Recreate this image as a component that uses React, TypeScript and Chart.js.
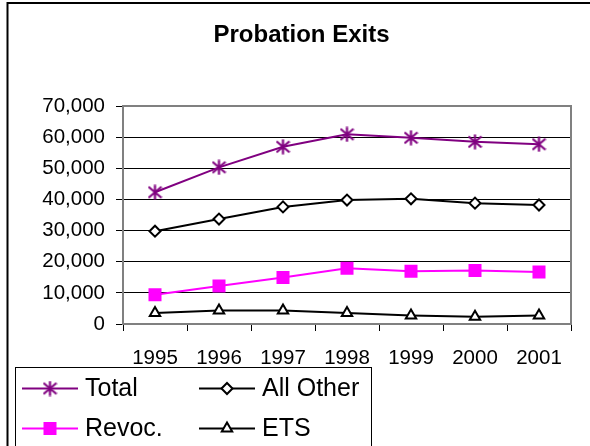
import React, { useEffect, useRef } from 'react';
import { Chart, registerables } from 'chart.js';

Chart.register(...registerables);

const categories = ['1995', '1996', '1997', '1998', '1999', '2000', '2001'];
const totalValues = [42300, 50300, 56900, 60900, 59800, 58500, 57700];
const allOtherValues = [29800, 33700, 37600, 39800, 40200, 38800, 38200];
const revocValues = [9400, 12200, 14900, 17900, 16900, 17200, 16700];
const etsValues = [3500, 4300, 4300, 3500, 2700, 2300, 2700];
const seriesNames = ['Total', 'All Other', 'Revoc.', 'ETS'];
const yMin = 0;
const yMax = 70000;
const yStep = 10000;
const chartTitle = 'Probation Exits';

const FONT = '"Liberation Sans", Arial, sans-serif';
const PURPLE = '#800080';
const MAGENTA = '#FF00FF';

function makeStar(color: string) {
  const c = document.createElement('canvas');
  c.width = 15;
  c.height = 16;
  const g = c.getContext('2d')!;
  g.strokeStyle = color;
  g.lineWidth = 2.2;
  g.beginPath();
  g.moveTo(7.5, 0.5);
  g.lineTo(7.5, 15.5);
  g.moveTo(1, 2.5);
  g.lineTo(14, 13.5);
  g.moveTo(14, 2.5);
  g.lineTo(1, 13.5);
  g.stroke();
  return c;
}

function drawMarker(ctx: CanvasRenderingContext2D, kind: string, x: number, y: number, star: HTMLCanvasElement) {
  ctx.save();
  if (kind === 'star') {
    ctx.drawImage(star, x - star.width / 2, y - star.height / 2);
  } else if (kind === 'diamond') {
    const r = 5.5;
    ctx.beginPath();
    ctx.moveTo(x - r, y);
    ctx.lineTo(x, y - r);
    ctx.lineTo(x + r, y);
    ctx.lineTo(x, y + r);
    ctx.closePath();
    ctx.fillStyle = '#fff';
    ctx.fill();
    ctx.lineWidth = 2;
    ctx.strokeStyle = '#000';
    ctx.stroke();
  } else if (kind === 'square') {
    const s = 6.5;
    ctx.fillStyle = MAGENTA;
    ctx.fillRect(x - s, y - s, 2 * s, 2 * s);
  } else if (kind === 'triangle') {
    const r = 6;
    ctx.beginPath();
    ctx.moveTo(x, y - r);
    ctx.lineTo(x + r * 0.866, y + r / 2);
    ctx.lineTo(x - r * 0.866, y + r / 2);
    ctx.closePath();
    ctx.fillStyle = '#fff';
    ctx.fill();
    ctx.lineWidth = 2;
    ctx.strokeStyle = '#000';
    ctx.stroke();
  }
  ctx.restore();
}

export default function App() {
  const ref = useRef<HTMLCanvasElement | null>(null);

  useEffect(() => {
    if (!ref.current) return;
    const star = makeStar(PURPLE);
    const legendItems = [
      { name: seriesNames[0], color: PURPLE, kind: 'star', col: 0, row: 0 },
      { name: seriesNames[1], color: '#000', kind: 'diamond', col: 1, row: 0 },
      { name: seriesNames[2], color: MAGENTA, kind: 'square', col: 0, row: 1 },
      { name: seriesNames[3], color: '#000', kind: 'triangle', col: 1, row: 1 },
    ];

    const decor = {
      id: 'decor',
      beforeDatasetsDraw(chart: any) {
        const { ctx, chartArea } = chart;
        ctx.save();
        ctx.strokeStyle = '#808080';
        ctx.lineWidth = 2;
        ctx.beginPath();
        ctx.moveTo(chartArea.left, chartArea.top);
        ctx.lineTo(chartArea.right, chartArea.top);
        ctx.lineTo(chartArea.right, chartArea.bottom);
        ctx.stroke();
        ctx.restore();
      },
      afterDraw(chart: any) {
        const { ctx } = chart;
        ctx.save();
        // outer frame
        ctx.strokeStyle = '#000';
        ctx.lineWidth = 2;
        ctx.beginPath();
        ctx.moveTo(7.5, 460);
        ctx.lineTo(7.5, 3);
        ctx.lineTo(600, 3);
        ctx.stroke();
        // title
        ctx.fillStyle = '#000';
        ctx.font = 'bold 24px ' + FONT;
        ctx.textAlign = 'center';
        ctx.textBaseline = 'alphabetic';
        ctx.fillText(chartTitle, 301.5, 42);
        // legend
        ctx.lineWidth = 1;
        ctx.strokeStyle = '#000';
        ctx.strokeRect(15.5, 367.5, 356, 100);
        const colX = [22, 199];
        const rowY = [388.5, 428.5];
        ctx.font = '25px ' + FONT;
        ctx.textAlign = 'left';
        ctx.textBaseline = 'middle';
        legendItems.forEach((it) => {
          const x0 = colX[it.col];
          const y = rowY[it.row];
          ctx.strokeStyle = it.color;
          ctx.lineWidth = 2;
          ctx.beginPath();
          ctx.moveTo(x0, y);
          ctx.lineTo(x0 + 56, y);
          ctx.stroke();
          drawMarker(ctx, it.kind, x0 + 28, y, star);
          ctx.fillStyle = '#000';
          ctx.fillText(it.name, x0 + 63, y + 1);
        });
        ctx.restore();
      },
    };

    const chart = new Chart(ref.current, {
      type: 'line',
      data: {
        labels: categories,
        datasets: [
          {
            label: seriesNames[0],
            data: totalValues,
            borderColor: PURPLE,
            backgroundColor: PURPLE,
            borderWidth: 2,
            pointStyle: star as any,
            pointRadius: 7,
          },
          {
            label: seriesNames[1],
            data: allOtherValues,
            borderColor: '#000',
            backgroundColor: '#fff',
            borderWidth: 2,
            pointStyle: 'rectRot',
            pointRadius: 5.5,
            pointBorderWidth: 2,
          },
          {
            label: seriesNames[2],
            data: revocValues,
            borderColor: MAGENTA,
            backgroundColor: MAGENTA,
            borderWidth: 2,
            pointStyle: 'rect',
            pointRadius: 9.2,
            pointBorderWidth: 0,
          },
          {
            label: seriesNames[3],
            data: etsValues,
            borderColor: '#000',
            backgroundColor: '#fff',
            borderWidth: 2,
            pointStyle: 'triangle',
            pointRadius: 6,
            pointBorderWidth: 2,
          },
        ],
      },
      options: {
        responsive: false,
        animation: false,
        events: [],
        layout: { padding: { top: 106, right: 19, bottom: 75, left: 0 } },
        plugins: {
          legend: { display: false },
          title: { display: false },
          tooltip: { enabled: false },
        },
        elements: { line: { tension: 0 } },
        scales: {
          x: {
            type: 'category',
            offset: true,
            grid: {
              display: true,
              offset: true,
              drawOnChartArea: false,
              drawTicks: true,
              tickLength: 7,
              tickColor: '#000',
              tickWidth: 1,
            },
            border: { display: true, color: '#808080', width: 2 },
            ticks: {
              color: '#000',
              font: { family: FONT, size: 20.5 },
              padding: 15,
              maxRotation: 0,
              autoSkip: false,
            },
            afterFit: (s: any) => {
              s.height = 47;
            },
          },
          y: {
            min: yMin,
            max: yMax,
            grid: {
              color: (c: any) => (c.tick && (c.tick.value === yMin || c.tick.value === yMax) ? 'rgba(0,0,0,0)' : '#000'),
              lineWidth: 1,
              tickLength: 7,
              tickColor: '#000',
              tickWidth: 1,
            },
            border: { display: true, color: '#808080', width: 2 },
            ticks: {
              stepSize: yStep,
              color: '#000',
              font: { family: FONT, size: 20.5 },
              padding: 11,
              callback: (v: any) => Number(v).toLocaleString('en-US'),
            },
            afterFit: (s: any) => {
              s.width = 123;
            },
          },
        },
      },
      plugins: [decor],
    });
    return () => chart.destroy();
  }, []);

  return (
    <div style={{ position: 'absolute', left: 0, top: 0, width: 590, height: 446, overflow: 'hidden', background: '#fff' }}>
      <canvas ref={ref} width={590} height={446} style={{ display: 'block' }} />
    </div>
  );
}
